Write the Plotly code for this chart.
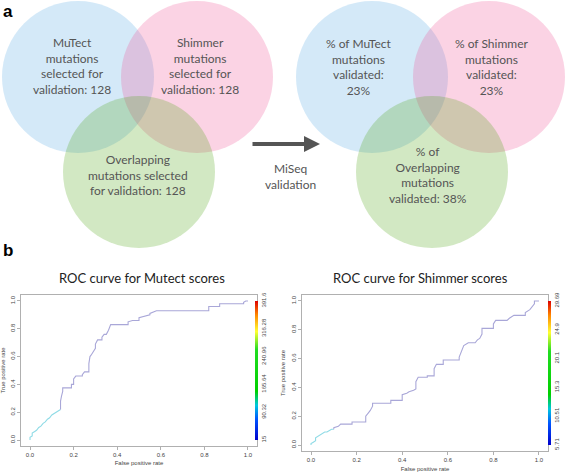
import plotly.graph_objects as go

W, H = 567, 475

# ---------------- data ----------------
venn_left_labels = ["MuTect<br>mutations<br>selected for<br>validation: 128",
                    "Shimmer<br>mutations<br>selected for<br>validation: 128",
                    "Overlapping<br>mutations selected<br>for validation: 128"]
venn_right_labels = ["% of MuTect<br>mutations<br>validated:<br>23%",
                     "% of Shimmer<br>mutations<br>validated:<br>23%",
                     "% of<br>Overlapping<br>mutations<br>validated: 38%"]
arrow_label = "MiSeq<br>validation"

# Mutect ROC (false positive rate, true positive rate)
mutect_fpr_low = [0.0, 0.0, 0.01, 0.01, 0.02, 0.03, 0.04, 0.05, 0.06, 0.07, 0.08, 0.09, 0.10, 0.11, 0.12, 0.13, 0.14]
mutect_tpr_low = [0.0, 0.02, 0.03, 0.05, 0.06, 0.07, 0.09, 0.10, 0.12, 0.13, 0.15, 0.16, 0.18, 0.19, 0.20, 0.21, 0.22]
mutect_fpr_high = [0.14, 0.14, 0.145, 0.15, 0.15, 0.19, 0.19, 0.20, 0.20, 0.21, 0.24, 0.24, 0.25, 0.27, 0.27,
                   0.275, 0.28, 0.29, 0.30, 0.30, 0.31, 0.33, 0.33, 0.34, 0.35, 0.36, 0.37, 0.45, 0.45, 0.47,
                   0.50, 0.50, 0.52, 0.55, 0.55, 0.58, 0.82, 0.82, 0.87, 0.87, 0.98, 0.98, 0.99, 1.0]
mutect_tpr_high = [0.22, 0.28, 0.32, 0.35, 0.375, 0.375, 0.40, 0.40, 0.44, 0.46, 0.46, 0.47, 0.49, 0.49, 0.55,
                   0.60, 0.61, 0.64, 0.66, 0.69, 0.72, 0.72, 0.74, 0.76, 0.76, 0.79, 0.83, 0.83, 0.85, 0.86,
                   0.86, 0.88, 0.89, 0.90, 0.91, 0.93, 0.93, 0.96, 0.96, 0.98, 0.98, 0.99, 1.0, 1.0]

# Shimmer ROC
shimmer_fpr_low = [0.0, 0.0, 0.01, 0.02, 0.02, 0.03, 0.04, 0.05, 0.06, 0.07, 0.08, 0.09, 0.10]
shimmer_tpr_low = [0.0, 0.01, 0.02, 0.03, 0.05, 0.06, 0.07, 0.08, 0.09, 0.09, 0.10, 0.11, 0.11]
shimmer_fpr_high = [0.10, 0.10, 0.12, 0.13, 0.18, 0.18, 0.24, 0.24, 0.25, 0.26, 0.27, 0.27, 0.35, 0.35, 0.40,
                    0.40, 0.42, 0.43, 0.45, 0.46, 0.46, 0.47, 0.51, 0.51, 0.54, 0.54, 0.55, 0.58, 0.58, 0.65,
                    0.65, 0.66, 0.67, 0.69, 0.72, 0.73, 0.74, 0.75, 0.75, 0.80, 0.80, 0.81, 0.86, 0.87, 0.89,
                    0.94, 0.94, 0.96, 0.97, 0.98, 0.98, 1.0]
shimmer_tpr_high = [0.11, 0.12, 0.13, 0.145, 0.145, 0.16, 0.16, 0.20, 0.22, 0.24, 0.27, 0.29, 0.29, 0.31, 0.31,
                    0.35, 0.36, 0.37, 0.38, 0.39, 0.44, 0.47, 0.47, 0.48, 0.48, 0.53, 0.56, 0.56, 0.59, 0.59,
                    0.61, 0.65, 0.69, 0.71, 0.71, 0.73, 0.74, 0.77, 0.81, 0.81, 0.84, 0.865, 0.865, 0.88, 0.90,
                    0.90, 0.92, 0.94, 0.96, 0.98, 1.0, 1.0]

axis_ticks = [0.0, 0.2, 0.4, 0.6, 0.8, 1.0]
axis_ticktext = ["0.0", "0.2", "0.4", "0.6", "0.8", "1.0"]
mutect_cbar_ticks = [15, 90.32, 165.64, 240.96, 316.28, 391.6]
shimmer_cbar_ticks = [5.71, 10.51, 15.3, 20.1, 24.9, 29.69]

titles = ["ROC curve for Mutect scores", "ROC curve for Shimmer scores"]

# ---------------- helpers ----------------
def X(px):
    return px / W

def Y(py):
    return 1 - py / H

rainbow = [[0.0, "#0000cc"], [0.15, "#0055ff"], [0.25, "#00c8e0"], [0.35, "#00d000"],
           [0.65, "#22dd22"], [0.78, "#ffff33"], [0.9, "#ff8800"], [1.0, "#dd0000"]]

fig = go.Figure()

CYAN = "#8fdbe6"
LAV = "#a9a7d8"

fig.add_trace(go.Scatter(x=mutect_fpr_low, y=mutect_tpr_low, mode="lines", line=dict(color=CYAN, width=1.1),
                         xaxis="x", yaxis="y", showlegend=False, hoverinfo="skip"))
fig.add_trace(go.Scatter(x=mutect_fpr_high, y=mutect_tpr_high, mode="lines", line=dict(color=LAV, width=1.1),
                         xaxis="x", yaxis="y", showlegend=False, hoverinfo="skip"))
fig.add_trace(go.Scatter(x=shimmer_fpr_low, y=shimmer_tpr_low, mode="lines", line=dict(color=CYAN, width=1.1),
                         xaxis="x2", yaxis="y2", showlegend=False, hoverinfo="skip"))
fig.add_trace(go.Scatter(x=shimmer_fpr_high, y=shimmer_tpr_high, mode="lines", line=dict(color=LAV, width=1.1),
                         xaxis="x2", yaxis="y2", showlegend=False, hoverinfo="skip"))

def cbar_trace(ticks, xa, ya, xpx, ytop, ybot):
    return go.Scatter(
        x=[0.5, 0.5], y=[0.5, 0.5], mode="markers", xaxis=xa, yaxis=ya, showlegend=False, hoverinfo="skip",
        marker=dict(color=[ticks[0], ticks[-1]], cmin=ticks[0], cmax=ticks[-1], colorscale=rainbow,
                    opacity=0, size=1, showscale=True,
                    colorbar=dict(x=X(xpx), xanchor="left", xref="paper", yref="paper",
                                  y=Y(ybot), yanchor="bottom", len=ybot - ytop, lenmode="pixels",
                                  thickness=3, outlinewidth=0, xpad=0, ypad=0,
                                  tickvals=ticks, ticktext=[f"{t:g}" for t in ticks],
                                  tickangle=-90, ticks="", ticklen=3,
                                  tickfont=dict(size=6, color="#444", family="Liberation Sans"))))

fig.add_trace(cbar_trace(mutect_cbar_ticks, "x", "y", 255, 301, 440))
fig.add_trace(cbar_trace(shimmer_cbar_ticks, "x2", "y2", 547.5, 301, 445))

ax_common = dict(range=[-0.04, 1.04], showgrid=False, zeroline=False, showline=True, linecolor="#b0b0b0",
                 linewidth=1, mirror=True, ticks="outside", ticklen=3, tickcolor="#b0b0b0",
                 tickvals=axis_ticks, ticktext=axis_ticktext, automargin=False,
                 tickfont=dict(size=6, color="#444", family="Liberation Sans"))

fig.update_layout(
    width=W, height=H, margin=dict(l=0, r=0, t=0, b=0, autoexpand=False),
    paper_bgcolor="white", plot_bgcolor="white",
    xaxis=dict(domain=[X(21.3), X(256.7)], anchor="y",
               title=dict(text="False positive rate", font=dict(size=6, color="#444", family="Liberation Sans"),
                          standoff=4), **ax_common),
    yaxis=dict(domain=[Y(445.6), Y(295.4)], anchor="x", tickangle=-90,
               title=dict(text="True positive rate", font=dict(size=6, color="#444", family="Liberation Sans"),
                          standoff=4), **ax_common),
    xaxis2=dict(domain=[X(301.9), X(548.1)], anchor="y2",
                title=dict(text="False positive rate", font=dict(size=6, color="#444", family="Liberation Sans"),
                           standoff=4), **ax_common),
    yaxis2=dict(domain=[Y(450.8), Y(295.2)], anchor="x2", tickangle=-90,
                title=dict(text="True positive rate", font=dict(size=6, color="#444", family="Liberation Sans"),
                           standoff=4), **ax_common),
)

# ---------------- Venn circles ----------------
R = 76
circles_left = [(78, 77, "rgba(83,167,227,0.25)"), (197, 77, "rgba(239,79,147,0.25)"),
                (139, 172, "rgba(75,163,15,0.25)")]
circles_right = [(372, 77, "rgba(83,167,227,0.25)"), (489, 77, "rgba(239,79,147,0.25)"),
                 (432, 172, "rgba(75,163,15,0.25)")]
for cx, cy, col in circles_left + circles_right:
    fig.add_shape(type="circle", xref="paper", yref="paper", x0=X(cx - R), x1=X(cx + R),
                  y0=Y(cy + R), y1=Y(cy - R), fillcolor=col, line=dict(width=0), layer="below")

vfont = dict(family="Lato", size=12, color="#555555")
left_pos = [(72, 65.5), (200, 65.5), (138, 175)]
right_pos = [(359, 67), (491, 67), (428, 175)]
for (x, y), t in zip(left_pos, venn_left_labels):
    fig.add_annotation(x=X(x), y=Y(y), xref="paper", yref="paper", text=t, showarrow=False, font=vfont,
                       xanchor="center", yanchor="middle", align="center")
for (x, y), t in zip(right_pos, venn_right_labels):
    fig.add_annotation(x=X(x), y=Y(y), xref="paper", yref="paper", text=t, showarrow=False, font=vfont,
                       xanchor="center", yanchor="middle", align="center")

# arrow
fig.add_annotation(x=X(320), y=Y(144), ax=-69, ay=0, xref="paper", yref="paper",
                   axref="pixel", ayref="pixel", text="", showarrow=True, arrowhead=2, arrowsize=0.8,
                   arrowwidth=4, arrowcolor="#555555")
fig.add_annotation(x=X(290), y=Y(176), xref="paper", yref="paper", text=arrow_label, showarrow=False,
                   font=vfont, align="center", xanchor="center", yanchor="middle")

# panel letters
for letter, (x, y) in zip(["a", "b"], [(8, 11), (8, 251)]):
    fig.add_annotation(x=X(x), y=Y(y), xref="paper", yref="paper", text=f"<b>{letter}</b>", showarrow=False,
                       xanchor="center", yanchor="middle",
                       font=dict(family="Liberation Sans", size=17, color="black"))

# ROC titles
for t, x in zip(titles, [142, 420]):
    fig.add_annotation(x=X(x), y=Y(278), xref="paper", yref="paper", text=t, showarrow=False,
                       xanchor="center", yanchor="middle",
                       font=dict(family="Lato", size=13, color="#222222"))

fig.write_html("out.html", config={"displayModeBar": False},
               post_script="document.body.style.margin='0';")
